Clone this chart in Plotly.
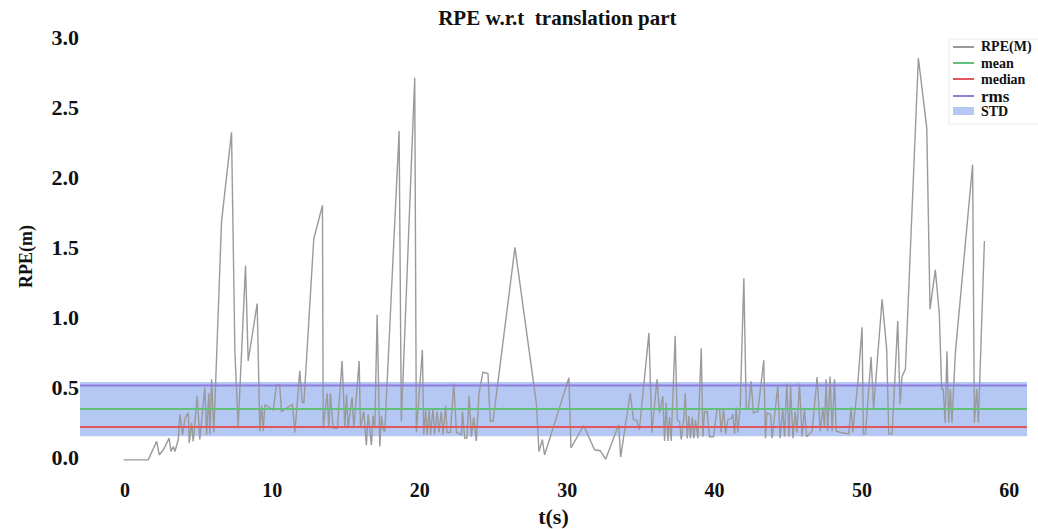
import plotly.graph_objects as go

# Relative pose error over time
t_s = [-0.1, 1.58, 2.15, 2.33, 2.6, 3.0, 3.12, 3.28, 3.39, 3.62, 3.73, 3.91, 4.07, 4.3, 4.36, 4.52,
       4.63, 4.9, 5.08, 5.42, 5.54, 5.69, 5.76, 5.88, 6.03, 6.55, 7.23, 7.46, 7.68, 8.18, 8.36, 8.97,
       9.15, 9.27, 9.38, 9.49, 10.06, 10.28, 10.5, 10.62, 11.36, 11.53, 11.86, 12.02, 12.14, 12.81,
       13.4, 13.45, 13.72, 13.83, 13.94, 14.12, 14.41, 14.73, 14.92, 15.03, 15.14, 15.41, 15.53,
       15.89, 15.98, 16.2, 16.38, 16.5, 16.72, 16.83, 16.95, 17.11, 17.29, 17.4, 17.52, 17.63, 18.6,
       18.75, 19.66, 19.77, 20.18, 20.27, 20.4, 20.5, 20.64, 20.73, 20.9, 21.0, 21.18, 21.3, 21.46,
       21.58, 21.76, 21.85, 22.08, 22.31, 22.49, 22.83, 22.9, 23.05, 23.2, 23.35, 23.5, 23.66, 23.84,
       24.02, 24.29, 24.63, 24.79, 24.97, 26.46, 27.68, 27.91, 28.09, 28.32, 28.47, 30.12, 30.26,
       31.12, 31.86, 32.25, 32.61, 33.5, 33.63, 34.28, 34.5, 34.7, 34.9, 35.55, 35.75, 36.1, 36.27,
       36.38, 36.49, 36.61, 36.72, 36.84, 36.95, 37.06, 37.33, 37.47, 37.63, 37.74, 37.9, 38.01,
       38.15, 38.26, 38.37, 38.49, 38.6, 38.71, 38.87, 39.1, 39.21, 39.32, 39.5, 39.66, 39.93, 40.16,
       40.34, 40.45, 40.61, 40.75, 40.9, 41.13, 41.24, 41.36, 41.47, 41.58, 41.74, 41.99, 42.15,
       42.3, 42.48, 42.64, 42.94, 43.34, 43.46, 43.55, 43.8, 43.91, 44.07, 44.29, 44.45, 44.63,
       44.75, 44.9, 45.05, 45.16, 45.32, 45.47, 45.59, 45.76, 45.94, 46.1, 46.25, 46.44, 46.62,
       46.96, 47.17, 47.35, 47.46, 47.57, 47.68, 47.84, 47.98, 48.14, 48.25, 48.59, 48.93, 49.1,
       49.27, 49.38, 49.72, 50.01, 50.1, 50.24, 50.62, 50.79, 51.37, 51.68, 51.82, 52.05, 52.43,
       52.59, 52.72, 52.95, 53.83, 54.4, 54.62, 54.98, 55.25, 55.41, 55.52, 55.64, 55.77, 55.89,
       56.0, 56.11, 56.34, 57.51, 57.63, 57.79, 57.9, 58.31]
rpe_m = [-0.015, -0.015, 0.117, 0.02, 0.057, 0.14, 0.045, 0.08, 0.045, 0.13, 0.31, 0.165, 0.28, 0.32,
         0.105, 0.25, 0.117, 0.44, 0.13, 0.5, 0.165, 0.46, 0.165, 0.56, 0.18, 1.68, 2.32, 0.75, 0.22,
         1.37, 0.69, 1.1, 0.19, 0.37, 0.19, 0.38, 0.34, 0.52, 0.52, 0.33, 0.38, 0.18, 0.62, 0.4,
         0.39, 1.56, 1.8, 0.21, 0.46, 0.21, 0.46, 0.21, 0.21, 0.69, 0.21, 0.45, 0.21, 0.43, 0.21,
         0.69, 0.21, 0.33, 0.09, 0.31, 0.09, 0.3, 0.21, 1.02, 0.08, 0.3, 0.2, 0.19, 2.33, 0.26, 2.71,
         0.18, 0.77, 0.165, 0.34, 0.165, 0.34, 0.165, 0.35, 0.165, 0.33, 0.18, 0.33, 0.165, 0.37,
         0.18, 0.18, 0.53, 0.18, 0.165, 0.33, 0.14, 0.14, 0.44, 0.15, 0.29, 0.12, 0.46, 0.61, 0.6,
         0.26, 0.26, 1.5, 0.56, 0.39, 0.045, 0.13, 0.02, 0.57, 0.07, 0.23, 0.057, 0.05, -0.01, 0.235,
         0.005, 0.46, 0.27, 0.27, 0.2, 0.89, 0.18, 0.56, 0.32, 0.39, 0.44, 0.12, 0.39, 0.12, 0.29,
         0.12, 0.87, 0.27, 0.26, 0.13, 0.26, 0.46, 0.14, 0.3, 0.14, 0.29, 0.14, 0.27, 0.14, 0.78,
         0.15, 0.33, 0.33, 0.15, 0.15, 0.34, 0.35, 0.18, 0.35, 0.17, 0.27, 0.28, 0.31, 0.17, 0.36,
         0.18, 0.36, 1.28, 0.35, 0.35, 0.545, 0.32, 0.33, 0.695, 0.14, 0.32, 0.31, 0.14, 0.31, 0.51,
         0.14, 0.35, 0.15, 0.53, 0.15, 0.51, 0.14, 0.33, 0.18, 0.53, 0.15, 0.35, 0.15, 0.17, 0.19,
         0.575, 0.19, 0.36, 0.21, 0.56, 0.19, 0.58, 0.19, 0.56, 0.19, 0.18, 0.17, 0.17, 0.36, 0.18,
         0.53, 0.93, 0.17, 0.17, 0.72, 0.35, 1.13, 0.775, 0.17, 0.17, 0.975, 0.38, 0.58, 0.63, 2.85,
         2.35, 1.06, 1.34, 1.03, 0.49, 0.49, 0.25, 0.76, 0.25, 0.49, 0.25, 0.75, 2.09, 0.25, 0.49,
         0.25, 1.545]

# Summary statistics
stat_mean = 0.347
stat_median = 0.219
stat_rms = 0.516
stat_std = 0.193

x_range = [-3.05, 61.2]
y_range = [-0.13, 3.0]
x_ticks = [0, 10, 20, 30, 40, 50, 60]
y_ticks = [0.0, 0.5, 1.0, 1.5, 2.0, 2.5, 3.0]

serif = "Liberation Serif"
ink = "#111111"
c_rpe = "#9a9a9a"
c_mean = "#62c078"
c_median = "#e0585c"
c_rms = "#8e7ddc"
c_std = "rgba(105,145,232,0.5)"

fig = go.Figure()

# STD band around the mean
fig.add_trace(go.Scatter(
    x=[x_range[0], x_range[1], x_range[1], x_range[0], x_range[0]],
    y=[stat_mean - stat_std, stat_mean - stat_std, stat_mean + stat_std,
       stat_mean + stat_std, stat_mean - stat_std],
    fill="toself", fillcolor=c_std, mode="lines",
    line=dict(width=0, color=c_std), name="STD", hoverinfo="skip"))

fig.add_trace(go.Scatter(
    x=t_s, y=rpe_m, mode="lines", name="RPE(M)",
    line=dict(color=c_rpe, width=1.4)))

for name, val, col in [("mean", stat_mean, c_mean),
                       ("median", stat_median, c_median),
                       ("rms", stat_rms, c_rms)]:
    fig.add_trace(go.Scatter(
        x=x_range, y=[val, val], mode="lines", name=name,
        line=dict(color=col, width=2)))

# Compact legend box in the top-right corner (paper coordinates)
W, H = 1038, 529
L, R, T, B = 80, 11, 37, 53
pw, ph = W - L - R, H - T - B


def px(x):
    return (x - L) / pw


def py(y):
    return (H - B - y) / ph


shapes = [dict(type="rect", xref="paper", yref="paper", x0=px(949), x1=px(1040),
               y0=py(124), y1=py(39), fillcolor="rgba(255,255,255,0.9)",
               line=dict(color="rgba(225,225,225,0.7)", width=1), layer="above")]
annotations = []
legend_rows = [("RPE(M)", c_rpe, "line", 47, 14),
               ("mean", c_mean, "line", 63, 14),
               ("median", c_median, "line", 79, 14),
               ("rms", c_rms, "line", 96, 17),
               ("STD", c_std, "box", 111, 14)]
for label, col, kind, yc, fs in legend_rows:
    if kind == "line":
        shapes.append(dict(type="line", xref="paper", yref="paper", x0=px(953), x1=px(974),
                           y0=py(yc), y1=py(yc), line=dict(color=col, width=2), layer="above"))
    else:
        shapes.append(dict(type="rect", xref="paper", yref="paper", x0=px(953), x1=px(974),
                           y0=py(yc + 4), y1=py(yc - 4), fillcolor=col,
                           line=dict(width=0), layer="above"))
    annotations.append(dict(text=label, xref="paper", yref="paper", x=px(979), y=py(yc),
                            xanchor="left", yanchor="middle", showarrow=False,
                            font=dict(family=serif, size=fs, color=ink, weight="bold")))

fig.update_layout(
    width=W, height=H,
    margin=dict(l=L, r=R, t=T, b=B, autoexpand=False),
    paper_bgcolor="white", plot_bgcolor="white",
    title=dict(text="RPE w.r.t\u00a0 translation part", x=0.537, xanchor="center",
               y=0.967, yanchor="middle",
               font=dict(family=serif, size=21, color=ink, weight="bold")),
    font=dict(family=serif, color=ink),
    showlegend=False,
    shapes=shapes,
    annotations=annotations,
)

fig.update_xaxes(range=x_range, tickvals=x_ticks, ticktext=[str(v) for v in x_ticks],
                 showline=False, zeroline=False, showgrid=True,
                 gridcolor="rgba(245,248,255,0.35)",
                 tickfont=dict(family=serif, size=20, color=ink, weight="bold"),
                 title=dict(text="t(s)", standoff=8,
                            font=dict(family=serif, size=22, color=ink, weight="bold")))
fig.update_yaxes(range=y_range, tickvals=y_ticks, tickformat=".1f",
                 showline=False, zeroline=False, showgrid=False,
                 tickfont=dict(family=serif, size=22, color=ink, weight="bold"),
                 title=dict(text="RPE(m)", standoff=14,
                            font=dict(family=serif, size=18, color=ink, weight="bold")))

fig.write_html("out.html")
